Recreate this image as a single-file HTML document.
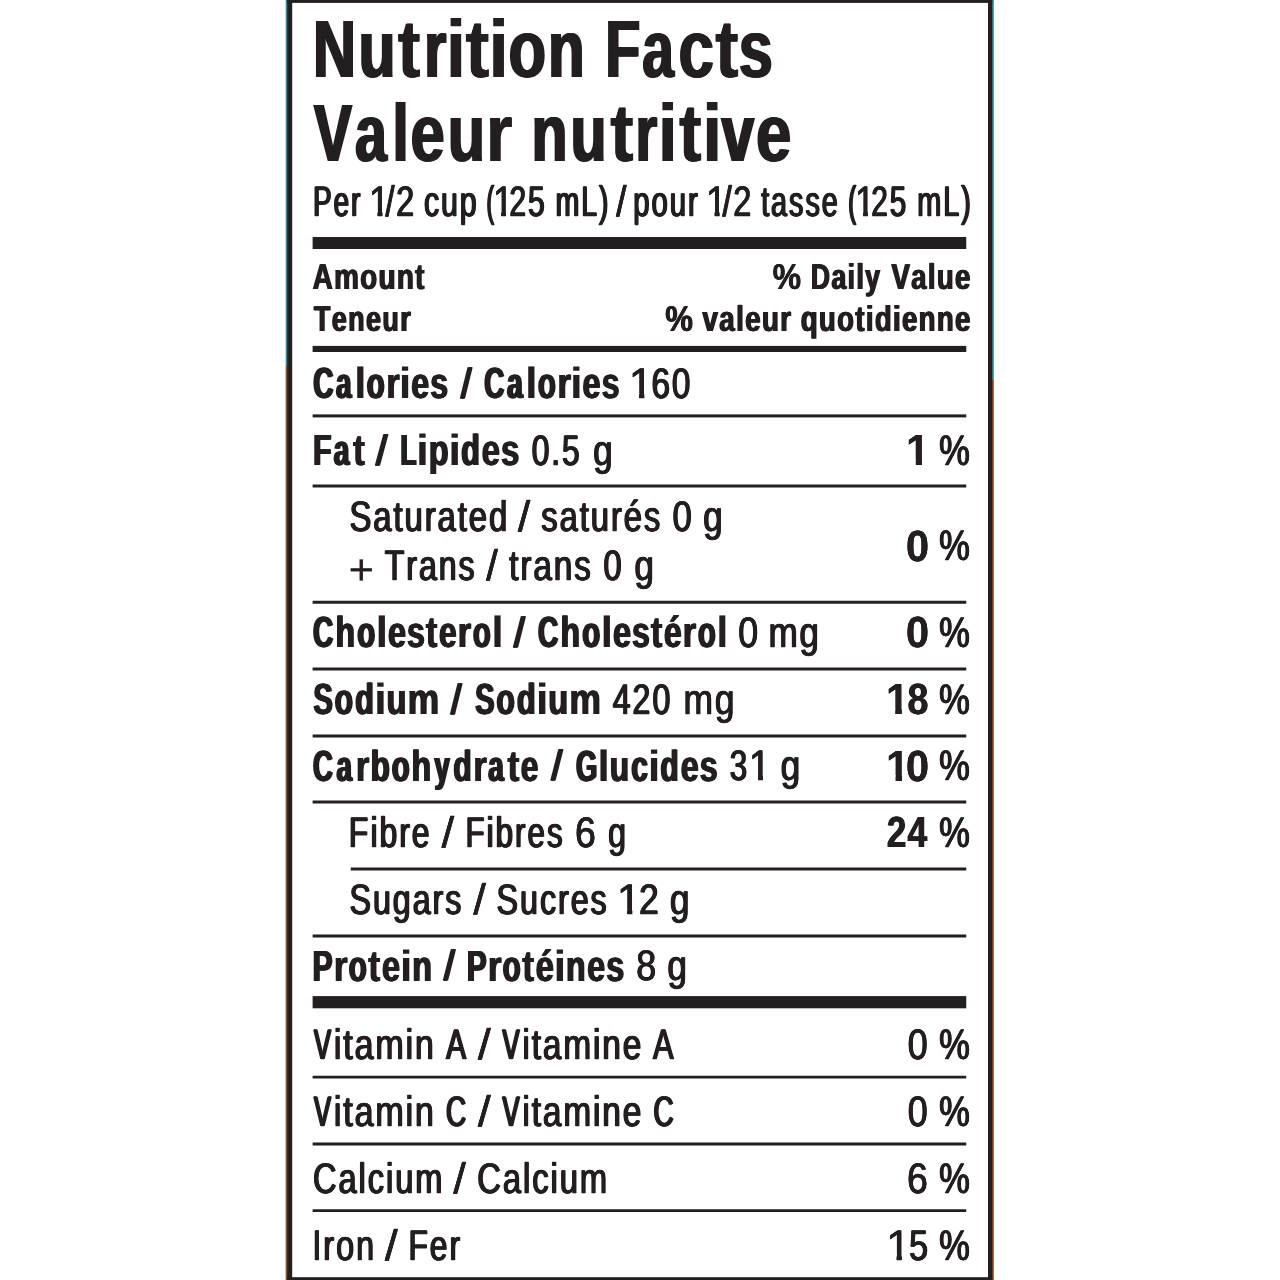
<!DOCTYPE html>
<html lang="en">
<head>
<meta charset="utf-8">
<title>Nutrition Facts / Valeur nutritive</title>
<style>
html,body{margin:0;padding:0;background:#fff;}
body{width:1280px;height:1280px;overflow:hidden;position:relative;}
#label{position:absolute;left:0;top:0;width:1280px;height:1280px;will-change:transform;}
#label svg{position:absolute;left:0;top:0;display:block;}
#label i{position:absolute;left:0;top:0;display:block;font-style:normal;white-space:pre;line-height:1;font-family:"Liberation Sans",sans-serif;color:#231f20;transform-origin:0 0;text-rendering:geometricPrecision;font-kerning:none;font-variant-ligatures:none;}
#label .T{font-weight:700;font-size:81.5px;}
#label .P{font-weight:400;font-size:42.66px;-webkit-text-stroke:0.65px #231f20;}
#label .H{font-weight:700;font-size:36px;}
#label .b{font-weight:700;font-size:43.6px;}
#label .r{font-weight:400;font-size:42.66px;-webkit-text-stroke:0.65px #231f20;}
#label .q{font-weight:400;font-size:42.5px;-webkit-text-stroke:0.6px #231f20;}
#label .x{font-weight:400;font-size:42.66px;-webkit-text-stroke:0.3px #231f20;}
</style>
</head>
<body>
<div id="label">
<svg width="1280" height="1280" viewBox="0 0 1280 1280" fill="#231f20">
<rect x="285.7" y="0" width="2" height="366" fill="#2a8ea3"/>
<rect x="285.7" y="366" width="2" height="914" fill="#8c4a1e"/>
<rect x="991.5" y="0" width="2.3" height="380" fill="#2a8ea3"/>
<rect x="991.5" y="380" width="2.3" height="900" fill="#8c4a1e"/>
<rect x="287.2" y="0" width="705" height="2.9"/>
<rect x="287.2" y="1277.2" width="705" height="2.8"/>
<rect x="287.2" y="0" width="5" height="1280"/>
<rect x="988" y="0" width="4.2" height="1280"/>
<rect x="312.6" y="237" width="653.65" height="12"/>
<rect x="312.6" y="345.9" width="653.65" height="6.1"/>
<rect x="312.6" y="414.4" width="653.65" height="3"/>
<rect x="312.6" y="484.5" width="653.65" height="3"/>
<rect x="312.6" y="600.75" width="653.65" height="3"/>
<rect x="312.6" y="667.5" width="653.65" height="3"/>
<rect x="312.6" y="734.5" width="653.65" height="3"/>
<rect x="312.6" y="800.5" width="653.65" height="3"/>
<rect x="350.75" y="867.5" width="615.5" height="3"/>
<rect x="312.6" y="934.5" width="653.65" height="3"/>
<rect x="312.6" y="996.1" width="653.65" height="12.2"/>
<rect x="312.6" y="1075.75" width="653.65" height="2.75"/>
<rect x="312.6" y="1142.5" width="653.65" height="3"/>
<rect x="312.6" y="1209.25" width="653.65" height="2.75"/>
</svg>
<i class="T" style="text-shadow:1.562px 0 0 #231f20,-1.562px 0 0 #231f20;transform:matrix(0.727,0,0,1,313.173,8.5)">N</i>
<i class="T" style="text-shadow:1.436px 0 0 #231f20,-1.436px 0 0 #231f20;transform:matrix(0.74,0,0,1,358.572,8.5)">u</i>
<i class="T" style="text-shadow:0.725px 0 0 #231f20,-0.725px 0 0 #231f20;transform:matrix(0.823,0,0,1,397.878,8.5)">t</i>
<i class="T" style="text-shadow:1.6px 0 0 #231f20,-1.6px 0 0 #231f20;transform:matrix(0.689,0,0,1,424.402,8.5)">r</i>
<i class="T" style="transform:matrix(0.943,0,0,1,445.331,8.5)">i</i>
<i class="T" style="text-shadow:0.243px 0 0 #231f20,-0.243px 0 0 #231f20;transform:matrix(0.891,0,0,1,465.23,8.5)">t</i>
<i class="T" style="transform:matrix(0.961,0,0,1,487.779,8.5)">i</i>
<i class="T" style="text-shadow:1.292px 0 0 #231f20,-1.292px 0 0 #231f20;transform:matrix(0.755,0,0,1,508.571,8.5)">o</i>
<i class="T" style="text-shadow:1.521px 0 0 #231f20,-1.521px 0 0 #231f20;transform:matrix(0.731,0,0,1,548.184,8.5)">n</i>
<i class="T" style="text-shadow:1.6px 0 0 #231f20,-1.6px 0 0 #231f20;transform:matrix(0.7,0,0,1,605.402,8.5)">F</i>
<i class="T" style="text-shadow:1.6px 0 0 #231f20,-1.6px 0 0 #231f20;transform:matrix(0.697,0,0,1,642.251,8.5)">a</i>
<i class="T" style="text-shadow:0.954px 0 0 #231f20,-0.954px 0 0 #231f20;transform:matrix(0.794,0,0,1,678.229,8.5)">c</i>
<i class="T" style="text-shadow:0.412px 0 0 #231f20,-0.412px 0 0 #231f20;transform:matrix(0.866,0,0,1,715.095,8.5)">t</i>
<i class="T" style="text-shadow:1.376px 0 0 #231f20,-1.376px 0 0 #231f20;transform:matrix(0.746,0,0,1,738.889,8.5)">s</i>
<i class="T" style="text-shadow:1.6px 0 0 #231f20,-1.6px 0 0 #231f20;transform:matrix(0.702,0,0,1,313.833,93.25)">V</i>
<i class="T" style="text-shadow:1.6px 0 0 #231f20,-1.6px 0 0 #231f20;transform:matrix(0.697,0,0,1,355.051,93.25)">a</i>
<i class="T" style="transform:matrix(0.894,0,0,1,390.511,93.25)">l</i>
<i class="T" style="text-shadow:1.239px 0 0 #231f20,-1.239px 0 0 #231f20;transform:matrix(0.761,0,0,1,410.42,93.25)">e</i>
<i class="T" style="text-shadow:1.287px 0 0 #231f20,-1.287px 0 0 #231f20;transform:matrix(0.756,0,0,1,447.652,93.25)">u</i>
<i class="T" style="text-shadow:0.707px 0 0 #231f20,-0.707px 0 0 #231f20;transform:matrix(0.826,0,0,1,486.148,93.25)">r</i>
<i class="T" style="text-shadow:1.6px 0 0 #231f20,-1.6px 0 0 #231f20;transform:matrix(0.719,0,0,1,531.688,93.25)">n</i>
<i class="T" style="text-shadow:1.6px 0 0 #231f20,-1.6px 0 0 #231f20;transform:matrix(0.72,0,0,1,570.612,93.25)">u</i>
<i class="T" style="text-shadow:0.412px 0 0 #231f20,-0.412px 0 0 #231f20;transform:matrix(0.866,0,0,1,610.095,93.25)">t</i>
<i class="T" style="text-shadow:1.6px 0 0 #231f20,-1.6px 0 0 #231f20;transform:matrix(0.685,0,0,1,635.515,93.25)">r</i>
<i class="T" style="transform:matrix(0.948,0,0,1,657.106,93.25)">i</i>
<i class="T" style="text-shadow:0.752px 0 0 #231f20,-0.752px 0 0 #231f20;transform:matrix(0.82,0,0,1,679.201,93.25)">t</i>
<i class="T" style="transform:matrix(0.948,0,0,1,701.506,93.25)">i</i>
<i class="T" style="text-shadow:1.6px 0 0 #231f20,-1.6px 0 0 #231f20;transform:matrix(0.719,0,0,1,721.521,93.25)">v</i>
<i class="T" style="text-shadow:1.038px 0 0 #231f20,-1.038px 0 0 #231f20;transform:matrix(0.784,0,0,1,755.817,93.25)">e</i>
<i class="P" style="text-shadow:1.273px 0 0 #231f20,-1.273px 0 0 #231f20;letter-spacing:3.196px;transform:matrix(0.648,0,0,1,313.168,180.999)">Per</i>
<i class="P" style="text-shadow:0.378px 0 0 #231f20,-0.378px 0 0 #231f20;clip-path:polygon(-9px -9px,15.251px -9px,15.251px 99px,10.024px 99px,10.024px 30.314px,-9px 30.314px);transform:matrix(0.873,0,0,1,368.932,180.999)">1</i>
<i class="P" style="text-shadow:0.762px 0 0 #231f20,-0.762px 0 0 #231f20;letter-spacing:2.174px;transform:matrix(0.76,0,0,1,385.526,180.999)">/2</i>
<i class="P" style="text-shadow:0.964px 0 0 #231f20,-0.964px 0 0 #231f20;letter-spacing:2.579px;transform:matrix(0.711,0,0,1,424.028,180.999)">cup</i>
<i class="P" style="text-shadow:1.6px 0 0 #231f20,-1.6px 0 0 #231f20;transform:matrix(0.534,0,0,1,486.515,180.999)">(</i>
<i class="P" style="text-shadow:0.519px 0 0 #231f20,-0.519px 0 0 #231f20;clip-path:polygon(-9px -9px,15.391px -9px,15.391px 99px,9.884px 99px,9.884px 30.314px,-9px 30.314px);transform:matrix(0.828,0,0,1,493.202,180.999)">1</i>
<i class="P" style="text-shadow:0.991px 0 0 #231f20,-0.991px 0 0 #231f20;letter-spacing:2.631px;transform:matrix(0.705,0,0,1,509.415,180.999)">25</i>
<i class="P" style="text-shadow:1.178px 0 0 #231f20,-1.178px 0 0 #231f20;letter-spacing:3.005px;transform:matrix(0.666,0,0,1,555.614,180.999)">mL)</i>
<i class="P" style="text-shadow:0.405px 0 0 #231f20,-0.405px 0 0 #231f20;transform:matrix(0.864,0,0,1,616.13,180.999)">/</i>
<i class="P" style="text-shadow:1.081px 0 0 #231f20,-1.081px 0 0 #231f20;letter-spacing:2.812px;transform:matrix(0.686,0,0,1,633.279,180.999)">pour</i>
<i class="P" style="text-shadow:0.378px 0 0 #231f20,-0.378px 0 0 #231f20;clip-path:polygon(-9px -9px,15.251px -9px,15.251px 99px,10.024px 99px,10.024px 30.314px,-9px 30.314px);transform:matrix(0.873,0,0,1,706.032,180.999)">1</i>
<i class="P" style="text-shadow:0.747px 0 0 #231f20,-0.747px 0 0 #231f20;letter-spacing:2.145px;transform:matrix(0.763,0,0,1,722.619,180.999)">/2</i>
<i class="P" style="text-shadow:1.137px 0 0 #231f20,-1.137px 0 0 #231f20;letter-spacing:2.924px;transform:matrix(0.674,0,0,1,761.15,180.999)">tasse</i>
<i class="P" style="text-shadow:1.6px 0 0 #231f20,-1.6px 0 0 #231f20;transform:matrix(0.538,0,0,1,848.363,180.999)">(</i>
<i class="P" style="text-shadow:0.519px 0 0 #231f20,-0.519px 0 0 #231f20;clip-path:polygon(-9px -9px,15.391px -9px,15.391px 99px,9.884px 99px,9.884px 30.314px,-9px 30.314px);transform:matrix(0.828,0,0,1,855.102,180.999)">1</i>
<i class="P" style="text-shadow:1.042px 0 0 #231f20,-1.042px 0 0 #231f20;letter-spacing:2.733px;transform:matrix(0.694,0,0,1,871.359,180.999)">25</i>
<i class="P" style="text-shadow:1.125px 0 0 #231f20,-1.125px 0 0 #231f20;letter-spacing:2.9px;transform:matrix(0.677,0,0,1,917.164,180.999)">mL)</i>
<i class="H" style="text-shadow:0.819px 0 0 #231f20,-0.819px 0 0 #231f20;letter-spacing:1.639px;transform:matrix(0.775,0,0,1,312.69,258.75)">Amount</i>
<i class="H" style="text-shadow:0.402px 0 0 #231f20,-0.402px 0 0 #231f20;transform:matrix(0.888,0,0,1,772.661,258.75)">%</i>
<i class="H" style="text-shadow:0.998px 0 0 #231f20,-0.998px 0 0 #231f20;letter-spacing:1.996px;transform:matrix(0.735,0,0,1,810.863,258.75)">Daily</i>
<i class="H" style="text-shadow:0.861px 0 0 #231f20,-0.861px 0 0 #231f20;letter-spacing:1.721px;transform:matrix(0.766,0,0,1,891.471,258.75)">Value</i>
<i class="H" style="text-shadow:0.939px 0 0 #231f20,-0.939px 0 0 #231f20;letter-spacing:1.879px;transform:matrix(0.748,0,0,1,313.9,301.25)">Teneur</i>
<i class="H" style="text-shadow:0.481px 0 0 #231f20,-0.481px 0 0 #231f20;transform:matrix(0.864,0,0,1,665.241,301.25)">%</i>
<i class="H" style="text-shadow:0.818px 0 0 #231f20,-0.818px 0 0 #231f20;letter-spacing:1.636px;transform:matrix(0.776,0,0,1,702.425,301.25)">valeur</i>
<i class="H" style="text-shadow:0.856px 0 0 #231f20,-0.856px 0 0 #231f20;letter-spacing:1.713px;transform:matrix(0.767,0,0,1,800.775,301.25)">quotidienne</i>
<i class="b" style="text-shadow:1.6px 0 0 #231f20,-1.6px 0 0 #231f20;transform:matrix(0.637,0,0,1,313.38,362.9)">C</i>
<i class="b" style="text-shadow:1.6px 0 0 #231f20,-1.6px 0 0 #231f20;transform:matrix(0.639,0,0,1,336.098,362.9)">a</i>
<i class="b" style="transform:matrix(1.044,0,0,1,354.004,362.9)">l</i>
<i class="b" style="text-shadow:1.397px 0 0 #231f20,-1.397px 0 0 #231f20;transform:matrix(0.672,0,0,1,366.724,362.9)">o</i>
<i class="b" style="text-shadow:0.706px 0 0 #231f20,-0.706px 0 0 #231f20;transform:matrix(0.798,0,0,1,386.192,362.9)">r</i>
<i class="b" style="transform:matrix(1.044,0,0,1,398.788,362.9)">i</i>
<i class="b" style="text-shadow:1.017px 0 0 #231f20,-1.017px 0 0 #231f20;transform:matrix(0.736,0,0,1,411.208,362.9)">e</i>
<i class="b" style="text-shadow:1.019px 0 0 #231f20,-1.019px 0 0 #231f20;transform:matrix(0.736,0,0,1,430.228,362.9)">s</i>
<i class="q" style="text-shadow:1.236px 0 0 #231f20,-1.236px 0 0 #231f20;transform:matrix(0.907,0,0,1,460.894,363.649)">/</i>
<i class="b" style="text-shadow:1.6px 0 0 #231f20,-1.6px 0 0 #231f20;transform:matrix(0.64,0,0,1,484.28,362.9)">C</i>
<i class="b" style="text-shadow:1.6px 0 0 #231f20,-1.6px 0 0 #231f20;transform:matrix(0.642,0,0,1,507.099,362.9)">a</i>
<i class="b" style="transform:matrix(1.049,0,0,1,525.086,362.9)">l</i>
<i class="b" style="text-shadow:1.367px 0 0 #231f20,-1.367px 0 0 #231f20;transform:matrix(0.677,0,0,1,537.842,362.9)">o</i>
<i class="b" style="text-shadow:0.673px 0 0 #231f20,-0.673px 0 0 #231f20;transform:matrix(0.805,0,0,1,557.384,362.9)">r</i>
<i class="b" style="transform:matrix(1.049,0,0,1,570.069,362.9)">i</i>
<i class="b" style="text-shadow:0.99px 0 0 #231f20,-0.99px 0 0 #231f20;transform:matrix(0.741,0,0,1,582.524,362.9)">e</i>
<i class="b" style="text-shadow:0.992px 0 0 #231f20,-0.992px 0 0 #231f20;transform:matrix(0.741,0,0,1,601.63,362.9)">s</i>
<i class="r" style="text-shadow:0.146px 0 0 #231f20,-0.146px 0 0 #231f20;clip-path:polygon(-9px -9px,15.018px -9px,15.018px 99px,10.257px 99px,10.257px 30.314px,-9px 30.314px);transform:matrix(1.023,0,0,1,628.782,362.649)">1</i>
<i class="r" style="text-shadow:0.874px 0 0 #231f20,-0.874px 0 0 #231f20;letter-spacing:2.399px;transform:matrix(0.781,0,0,1,651.445,362.649)">60</i>
<i class="b" style="text-shadow:1.284px 0 0 #231f20,-1.284px 0 0 #231f20;transform:matrix(0.69,0,0,1,313.074,430)">F</i>
<i class="b" style="text-shadow:1.583px 0 0 #231f20,-1.583px 0 0 #231f20;transform:matrix(0.645,0,0,1,333.649,430)">a</i>
<i class="b" style="text-shadow:0.626px 0 0 #231f20,-0.626px 0 0 #231f20;transform:matrix(0.816,0,0,1,353.082,430)">t</i>
<i class="q" style="text-shadow:0.953px 0 0 #231f20,-0.953px 0 0 #231f20;transform:matrix(0.996,0,0,1,375.747,430.749)">/</i>
<i class="b" style="text-shadow:1.6px 0 0 #231f20,-1.6px 0 0 #231f20;transform:matrix(0.598,0,0,1,400.463,430)">L</i>
<i class="b" style="transform:matrix(1.065,0,0,1,416.053,430)">i</i>
<i class="b" style="text-shadow:0.958px 0 0 #231f20,-0.958px 0 0 #231f20;transform:matrix(0.747,0,0,1,428.723,430)">p</i>
<i class="b" style="transform:matrix(1.065,0,0,1,448.321,430)">i</i>
<i class="b" style="text-shadow:1.191px 0 0 #231f20,-1.191px 0 0 #231f20;transform:matrix(0.705,0,0,1,461.082,430)">d</i>
<i class="b" style="text-shadow:0.898px 0 0 #231f20,-0.898px 0 0 #231f20;transform:matrix(0.758,0,0,1,481.641,430)">e</i>
<i class="b" style="text-shadow:0.9px 0 0 #231f20,-0.9px 0 0 #231f20;transform:matrix(0.758,0,0,1,501.04,430)">s</i>
<i class="b" style="text-shadow:0.041px 0 0 #231f20,-0.041px 0 0 #231f20;clip-path:polygon(-9px -9px,16.25px -9px,16.25px 99px,10.135px 99px,10.135px 29.451px,-9px 29.451px);transform:matrix(0.973,0,0,1,906.041,430)">1</i>
<i class="r" style="text-shadow:1.034px 0 0 #231f20,-1.034px 0 0 #231f20;letter-spacing:2.718px;transform:matrix(0.742,0,0,1,531.672,429.749)">0.5</i>
<i class="r" style="text-shadow:0.717px 0 0 #231f20,-0.717px 0 0 #231f20;transform:matrix(0.823,0,0,1,593.134,429.749)">g</i>
<i class="r" style="text-shadow:0.766px 0 0 #231f20,-0.766px 0 0 #231f20;transform:matrix(0.809,0,0,1,939.152,429.749)">%</i>
<i class="r" style="text-shadow:0.919px 0 0 #231f20,-0.919px 0 0 #231f20;letter-spacing:2.487px;transform:matrix(0.77,0,0,1,349.466,495.999)">Saturated</i>
<i class="r" style="text-shadow:0.143px 0 0 #231f20,-0.143px 0 0 #231f20;transform:matrix(1.024,0,0,1,517.98,495.999)">/</i>
<i class="r" style="text-shadow:0.927px 0 0 #231f20,-0.927px 0 0 #231f20;letter-spacing:2.503px;transform:matrix(0.768,0,0,1,541.299,495.999)">saturés</i>
<i class="r" style="text-shadow:0.77px 0 0 #231f20,-0.77px 0 0 #231f20;transform:matrix(0.808,0,0,1,672.538,495.999)">0</i>
<i class="r" style="text-shadow:0.717px 0 0 #231f20,-0.717px 0 0 #231f20;transform:matrix(0.823,0,0,1,703.134,495.999)">g</i>
<i class="x" style="transform:matrix(1.013,0,0,1,348.642,549.149)">+</i>
<i class="r" style="text-shadow:0.993px 0 0 #231f20,-0.993px 0 0 #231f20;letter-spacing:2.636px;transform:matrix(0.752,0,0,1,384.67,544.549)">Trans</i>
<i class="r" style="text-shadow:0.262px 0 0 #231f20,-0.262px 0 0 #231f20;transform:matrix(0.975,0,0,1,486.172,544.549)">/</i>
<i class="r" style="text-shadow:0.866px 0 0 #231f20,-0.866px 0 0 #231f20;letter-spacing:2.383px;transform:matrix(0.783,0,0,1,509.177,544.549)">trans</i>
<i class="r" style="text-shadow:0.945px 0 0 #231f20,-0.945px 0 0 #231f20;transform:matrix(0.763,0,0,1,603.448,544.549)">0</i>
<i class="r" style="text-shadow:0.717px 0 0 #231f20,-0.717px 0 0 #231f20;transform:matrix(0.823,0,0,1,634.384,544.549)">g</i>
<i class="b" style="text-shadow:0.096px 0 0 #231f20,-0.096px 0 0 #231f20;transform:matrix(0.956,0,0,1,905.943,525.5)">0</i>
<i class="r" style="text-shadow:0.766px 0 0 #231f20,-0.766px 0 0 #231f20;transform:matrix(0.809,0,0,1,939.152,525.249)">%</i>
<i class="b" style="text-shadow:1.591px 0 0 #231f20,-1.591px 0 0 #231f20;transform:matrix(0.644,0,0,1,312.973,612.4)">C</i>
<i class="b" style="text-shadow:1.024px 0 0 #231f20,-1.024px 0 0 #231f20;transform:matrix(0.735,0,0,1,335.415,612.4)">h</i>
<i class="b" style="text-shadow:1.394px 0 0 #231f20,-1.394px 0 0 #231f20;transform:matrix(0.673,0,0,1,357.292,612.4)">o</i>
<i class="b" style="transform:matrix(1.045,0,0,1,375.569,612.4)">l</i>
<i class="b" style="text-shadow:0.979px 0 0 #231f20,-0.979px 0 0 #231f20;transform:matrix(0.743,0,0,1,387.962,612.4)">e</i>
<i class="b" style="text-shadow:1.017px 0 0 #231f20,-1.017px 0 0 #231f20;transform:matrix(0.736,0,0,1,407.12,612.4)">s</i>
<i class="b" style="text-shadow:0.683px 0 0 #231f20,-0.683px 0 0 #231f20;transform:matrix(0.803,0,0,1,425.721,612.4)">t</i>
<i class="b" style="text-shadow:1.07px 0 0 #231f20,-1.07px 0 0 #231f20;transform:matrix(0.726,0,0,1,438.94,612.4)">e</i>
<i class="b" style="text-shadow:0.703px 0 0 #231f20,-0.703px 0 0 #231f20;transform:matrix(0.799,0,0,1,457.666,612.4)">r</i>
<i class="b" style="text-shadow:1.394px 0 0 #231f20,-1.394px 0 0 #231f20;transform:matrix(0.673,0,0,1,472.892,612.4)">o</i>
<i class="b" style="transform:matrix(1.036,0,0,1,491.245,612.4)">l</i>
<i class="q" style="text-shadow:1.136px 0 0 #231f20,-1.136px 0 0 #231f20;transform:matrix(0.937,0,0,1,513.845,613.149)">/</i>
<i class="b" style="text-shadow:1.591px 0 0 #231f20,-1.591px 0 0 #231f20;transform:matrix(0.644,0,0,1,537.973,612.4)">C</i>
<i class="b" style="text-shadow:1.024px 0 0 #231f20,-1.024px 0 0 #231f20;transform:matrix(0.735,0,0,1,560.415,612.4)">h</i>
<i class="b" style="text-shadow:1.394px 0 0 #231f20,-1.394px 0 0 #231f20;transform:matrix(0.673,0,0,1,582.292,612.4)">o</i>
<i class="b" style="transform:matrix(1.045,0,0,1,600.569,612.4)">l</i>
<i class="b" style="text-shadow:0.979px 0 0 #231f20,-0.979px 0 0 #231f20;transform:matrix(0.743,0,0,1,612.962,612.4)">e</i>
<i class="b" style="text-shadow:1.017px 0 0 #231f20,-1.017px 0 0 #231f20;transform:matrix(0.736,0,0,1,632.12,612.4)">s</i>
<i class="b" style="text-shadow:0.683px 0 0 #231f20,-0.683px 0 0 #231f20;transform:matrix(0.803,0,0,1,650.721,612.4)">t</i>
<i class="b" style="text-shadow:1.07px 0 0 #231f20,-1.07px 0 0 #231f20;transform:matrix(0.726,0,0,1,663.94,612.4)">é</i>
<i class="b" style="text-shadow:0.703px 0 0 #231f20,-0.703px 0 0 #231f20;transform:matrix(0.799,0,0,1,682.666,612.4)">r</i>
<i class="b" style="text-shadow:1.394px 0 0 #231f20,-1.394px 0 0 #231f20;transform:matrix(0.673,0,0,1,697.892,612.4)">o</i>
<i class="b" style="transform:matrix(1.003,0,0,1,716.347,612.4)">l</i>
<i class="b" style="text-shadow:0.096px 0 0 #231f20,-0.096px 0 0 #231f20;transform:matrix(0.956,0,0,1,905.943,612.4)">0</i>
<i class="r" style="text-shadow:0.664px 0 0 #231f20,-0.664px 0 0 #231f20;transform:matrix(0.838,0,0,1,738.182,612.149)">0</i>
<i class="r" style="text-shadow:0.725px 0 0 #231f20,-0.725px 0 0 #231f20;letter-spacing:2.099px;transform:matrix(0.821,0,0,1,768.536,612.149)">mg</i>
<i class="r" style="text-shadow:0.766px 0 0 #231f20,-0.766px 0 0 #231f20;transform:matrix(0.809,0,0,1,939.152,612.149)">%</i>
<i class="b" style="text-shadow:1.418px 0 0 #231f20,-1.418px 0 0 #231f20;transform:matrix(0.669,0,0,1,313.358,679.2)">S</i>
<i class="b" style="text-shadow:1.268px 0 0 #231f20,-1.268px 0 0 #231f20;transform:matrix(0.693,0,0,1,334.668,679.2)">o</i>
<i class="b" style="text-shadow:1.189px 0 0 #231f20,-1.189px 0 0 #231f20;transform:matrix(0.706,0,0,1,355.043,679.2)">d</i>
<i class="b" style="transform:matrix(1.065,0,0,1,373.891,679.2)">i</i>
<i class="b" style="text-shadow:0.95px 0 0 #231f20,-0.95px 0 0 #231f20;transform:matrix(0.749,0,0,1,386.477,679.2)">u</i>
<i class="b" style="text-shadow:0.634px 0 0 #231f20,-0.634px 0 0 #231f20;transform:matrix(0.814,0,0,1,407.635,679.2)">m</i>
<i class="q" style="text-shadow:1.236px 0 0 #231f20,-1.236px 0 0 #231f20;transform:matrix(0.907,0,0,1,450.894,679.949)">/</i>
<i class="b" style="text-shadow:1.418px 0 0 #231f20,-1.418px 0 0 #231f20;transform:matrix(0.669,0,0,1,475.108,679.2)">S</i>
<i class="b" style="text-shadow:1.268px 0 0 #231f20,-1.268px 0 0 #231f20;transform:matrix(0.693,0,0,1,496.418,679.2)">o</i>
<i class="b" style="text-shadow:1.189px 0 0 #231f20,-1.189px 0 0 #231f20;transform:matrix(0.706,0,0,1,516.793,679.2)">d</i>
<i class="b" style="transform:matrix(1.065,0,0,1,535.641,679.2)">i</i>
<i class="b" style="text-shadow:0.95px 0 0 #231f20,-0.95px 0 0 #231f20;transform:matrix(0.749,0,0,1,548.227,679.2)">u</i>
<i class="b" style="text-shadow:0.634px 0 0 #231f20,-0.634px 0 0 #231f20;transform:matrix(0.814,0,0,1,569.385,679.2)">m</i>
<i class="b" style="text-shadow:0.108px 0 0 #231f20,-0.108px 0 0 #231f20;clip-path:polygon(-9px -9px,16.316px -9px,16.316px 99px,10.068px 99px,10.068px 29.451px,-9px 29.451px);transform:matrix(0.952,0,0,1,886.015,679.2)">1</i>
<i class="b" style="text-shadow:0.405px 0 0 #231f20,-0.405px 0 0 #231f20;transform:matrix(0.869,0,0,1,907.45,679.2)">8</i>
<i class="r" style="text-shadow:0.99px 0 0 #231f20,-0.99px 0 0 #231f20;letter-spacing:2.63px;transform:matrix(0.752,0,0,1,612.753,678.949)">420</i>
<i class="r" style="text-shadow:0.687px 0 0 #231f20,-0.687px 0 0 #231f20;letter-spacing:2.023px;transform:matrix(0.832,0,0,1,683.486,678.949)">mg</i>
<i class="r" style="text-shadow:0.766px 0 0 #231f20,-0.766px 0 0 #231f20;transform:matrix(0.809,0,0,1,939.152,678.949)">%</i>
<i class="b" style="text-shadow:1.6px 0 0 #231f20,-1.6px 0 0 #231f20;transform:matrix(0.631,0,0,1,312.981,745.75)">C</i>
<i class="b" style="text-shadow:1.6px 0 0 #231f20,-1.6px 0 0 #231f20;transform:matrix(0.637,0,0,1,336.456,745.75)">a</i>
<i class="b" style="text-shadow:0.672px 0 0 #231f20,-0.672px 0 0 #231f20;transform:matrix(0.805,0,0,1,355.727,745.75)">r</i>
<i class="b" style="text-shadow:1.075px 0 0 #231f20,-1.075px 0 0 #231f20;transform:matrix(0.726,0,0,1,370.595,745.75)">b</i>
<i class="b" style="text-shadow:1.394px 0 0 #231f20,-1.394px 0 0 #231f20;transform:matrix(0.673,0,0,1,391.692,745.75)">o</i>
<i class="b" style="text-shadow:1.005px 0 0 #231f20,-1.005px 0 0 #231f20;transform:matrix(0.738,0,0,1,411.595,745.75)">h</i>
<i class="b" style="text-shadow:1.6px 0 0 #231f20,-1.6px 0 0 #231f20;transform:matrix(0.627,0,0,1,434.54,745.75)">y</i>
<i class="b" style="text-shadow:1.316px 0 0 #231f20,-1.316px 0 0 #231f20;transform:matrix(0.685,0,0,1,453.427,745.75)">d</i>
<i class="b" style="text-shadow:0.672px 0 0 #231f20,-0.672px 0 0 #231f20;transform:matrix(0.805,0,0,1,473.227,745.75)">r</i>
<i class="b" style="text-shadow:1.6px 0 0 #231f20,-1.6px 0 0 #231f20;transform:matrix(0.639,0,0,1,488.306,745.75)">a</i>
<i class="b" style="text-shadow:0.683px 0 0 #231f20,-0.683px 0 0 #231f20;transform:matrix(0.803,0,0,1,507.621,745.75)">t</i>
<i class="b" style="text-shadow:1.07px 0 0 #231f20,-1.07px 0 0 #231f20;transform:matrix(0.726,0,0,1,520.79,745.75)">e</i>
<i class="q" style="text-shadow:1.136px 0 0 #231f20,-1.136px 0 0 #231f20;transform:matrix(0.937,0,0,1,551.345,746.499)">/</i>
<i class="b" style="text-shadow:1.6px 0 0 #231f20,-1.6px 0 0 #231f20;transform:matrix(0.629,0,0,1,575.882,745.75)">G</i>
<i class="b" style="transform:matrix(1.046,0,0,1,597.35,745.75)">l</i>
<i class="b" style="text-shadow:1.061px 0 0 #231f20,-1.061px 0 0 #231f20;transform:matrix(0.728,0,0,1,609.803,745.75)">u</i>
<i class="b" style="text-shadow:1.253px 0 0 #231f20,-1.253px 0 0 #231f20;transform:matrix(0.695,0,0,1,631.066,745.75)">c</i>
<i class="b" style="transform:matrix(1.046,0,0,1,647.821,745.75)">i</i>
<i class="b" style="text-shadow:1.307px 0 0 #231f20,-1.307px 0 0 #231f20;transform:matrix(0.686,0,0,1,660.44,745.75)">d</i>
<i class="b" style="text-shadow:1.006px 0 0 #231f20,-1.006px 0 0 #231f20;transform:matrix(0.738,0,0,1,680.635,745.75)">e</i>
<i class="b" style="text-shadow:1.008px 0 0 #231f20,-1.008px 0 0 #231f20;transform:matrix(0.738,0,0,1,699.689,745.75)">s</i>
<i class="b" style="text-shadow:0.085px 0 0 #231f20,-0.085px 0 0 #231f20;clip-path:polygon(-9px -9px,16.294px -9px,16.294px 99px,10.091px 99px,10.091px 29.451px,-9px 29.451px);transform:matrix(0.959,0,0,1,886.124,745.75)">1</i>
<i class="b" style="text-shadow:0.096px 0 0 #231f20,-0.096px 0 0 #231f20;transform:matrix(0.956,0,0,1,905.943,745.75)">0</i>
<i class="r" style="text-shadow:1.068px 0 0 #231f20,-1.068px 0 0 #231f20;transform:matrix(0.734,0,0,1,729.83,745.499)">3</i>
<i class="r" style="text-shadow:0.458px 0 0 #231f20,-0.458px 0 0 #231f20;clip-path:polygon(-9px -9px,15.331px -9px,15.331px 99px,9.944px 99px,9.944px 30.314px,-9px 30.314px);transform:matrix(0.903,0,0,1,749.002,745.499)">1</i>
<i class="r" style="text-shadow:0.717px 0 0 #231f20,-0.717px 0 0 #231f20;transform:matrix(0.823,0,0,1,780.634,745.499)">g</i>
<i class="r" style="text-shadow:0.766px 0 0 #231f20,-0.766px 0 0 #231f20;transform:matrix(0.809,0,0,1,939.152,745.499)">%</i>
<i class="r" style="text-shadow:1.003px 0 0 #231f20,-1.003px 0 0 #231f20;letter-spacing:2.655px;transform:matrix(0.749,0,0,1,348.872,811.999)">Fibre</i>
<i class="r" style="text-shadow:0.102px 0 0 #231f20,-0.102px 0 0 #231f20;transform:matrix(1.043,0,0,1,441.695,811.999)">/</i>
<i class="r" style="text-shadow:1.074px 0 0 #231f20,-1.074px 0 0 #231f20;letter-spacing:2.798px;transform:matrix(0.733,0,0,1,465.46,811.999)">Fibres</i>
<i class="r" style="text-shadow:0.542px 0 0 #231f20,-0.542px 0 0 #231f20;transform:matrix(0.875,0,0,1,575.112,811.999)">6</i>
<i class="r" style="text-shadow:0.966px 0 0 #231f20,-0.966px 0 0 #231f20;transform:matrix(0.758,0,0,1,608.121,811.999)">g</i>
<i class="r" style="text-shadow:0.766px 0 0 #231f20,-0.766px 0 0 #231f20;transform:matrix(0.809,0,0,1,939.152,811.999)">%</i>
<i class="b" style="text-shadow:0.648px 0 0 #231f20,-0.648px 0 0 #231f20;letter-spacing:1.296px;transform:matrix(0.811,0,0,1,886.8,812.25)">24</i>
<i class="r" style="text-shadow:0.979px 0 0 #231f20,-0.979px 0 0 #231f20;letter-spacing:2.607px;transform:matrix(0.755,0,0,1,349.522,879.249)">Sugars</i>
<i class="r" style="text-shadow:0.102px 0 0 #231f20,-0.102px 0 0 #231f20;transform:matrix(1.043,0,0,1,473.445,879.249)">/</i>
<i class="r" style="text-shadow:0.976px 0 0 #231f20,-0.976px 0 0 #231f20;letter-spacing:2.603px;transform:matrix(0.756,0,0,1,496.52,879.249)">Sucres</i>
<i class="r" style="text-shadow:0.146px 0 0 #231f20,-0.146px 0 0 #231f20;clip-path:polygon(-9px -9px,15.018px -9px,15.018px 99px,10.257px 99px,10.257px 30.314px,-9px 30.314px);transform:matrix(1.023,0,0,1,616.782,879.249)">1</i>
<i class="r" style="text-shadow:0.696px 0 0 #231f20,-0.696px 0 0 #231f20;transform:matrix(0.829,0,0,1,639.068,879.249)">2</i>
<i class="r" style="text-shadow:0.717px 0 0 #231f20,-0.717px 0 0 #231f20;transform:matrix(0.823,0,0,1,669.884,879.249)">g</i>
<i class="b" style="text-shadow:1.306px 0 0 #231f20,-1.306px 0 0 #231f20;transform:matrix(0.687,0,0,1,312.644,945.75)">P</i>
<i class="b" style="text-shadow:0.613px 0 0 #231f20,-0.613px 0 0 #231f20;transform:matrix(0.818,0,0,1,333.669,945.75)">r</i>
<i class="b" style="text-shadow:1.313px 0 0 #231f20,-1.313px 0 0 #231f20;transform:matrix(0.685,0,0,1,348.567,945.75)">o</i>
<i class="b" style="text-shadow:0.594px 0 0 #231f20,-0.594px 0 0 #231f20;transform:matrix(0.823,0,0,1,368.225,945.75)">t</i>
<i class="b" style="text-shadow:0.939px 0 0 #231f20,-0.939px 0 0 #231f20;transform:matrix(0.751,0,0,1,381.878,945.75)">e</i>
<i class="b" style="transform:matrix(1.058,0,0,1,399.684,945.75)">i</i>
<i class="b" style="text-shadow:0.993px 0 0 #231f20,-0.993px 0 0 #231f20;transform:matrix(0.741,0,0,1,412.295,945.75)">n</i>
<i class="q" style="text-shadow:1.136px 0 0 #231f20,-1.136px 0 0 #231f20;transform:matrix(0.937,0,0,1,443.845,946.499)">/</i>
<i class="b" style="text-shadow:1.34px 0 0 #231f20,-1.34px 0 0 #231f20;transform:matrix(0.681,0,0,1,466.926,945.75)">P</i>
<i class="b" style="text-shadow:0.652px 0 0 #231f20,-0.652px 0 0 #231f20;transform:matrix(0.81,0,0,1,487.853,945.75)">r</i>
<i class="b" style="text-shadow:1.348px 0 0 #231f20,-1.348px 0 0 #231f20;transform:matrix(0.68,0,0,1,502.655,945.75)">o</i>
<i class="b" style="text-shadow:0.632px 0 0 #231f20,-0.632px 0 0 #231f20;transform:matrix(0.814,0,0,1,522.213,945.75)">t</i>
<i class="b" style="text-shadow:0.972px 0 0 #231f20,-0.972px 0 0 #231f20;transform:matrix(0.744,0,0,1,535.788,945.75)">é</i>
<i class="b" style="transform:matrix(1.052,0,0,1,553.473,945.75)">i</i>
<i class="b" style="text-shadow:1.026px 0 0 #231f20,-1.026px 0 0 #231f20;transform:matrix(0.734,0,0,1,566.044,945.75)">n</i>
<i class="b" style="text-shadow:0.972px 0 0 #231f20,-0.972px 0 0 #231f20;transform:matrix(0.744,0,0,1,587.151,945.75)">e</i>
<i class="b" style="text-shadow:0.974px 0 0 #231f20,-0.974px 0 0 #231f20;transform:matrix(0.744,0,0,1,606.314,945.75)">s</i>
<i class="r" style="text-shadow:0.65px 0 0 #231f20,-0.65px 0 0 #231f20;transform:matrix(0.842,0,0,1,636.26,945.499)">8</i>
<i class="r" style="text-shadow:0.717px 0 0 #231f20,-0.717px 0 0 #231f20;transform:matrix(0.823,0,0,1,667.384,945.499)">g</i>
<i class="r" style="text-shadow:1.6px 0 0 #231f20,-1.6px 0 0 #231f20;transform:matrix(0.598,0,0,1,314.039,1024.349)">V</i>
<i class="r" style="text-shadow:0.8px 0 0 #231f20,-0.8px 0 0 #231f20;letter-spacing:2.25px;transform:matrix(0.8,0,0,1,333.867,1024.349)">itamin</i>
<i class="r" style="text-shadow:1.224px 0 0 #231f20,-1.224px 0 0 #231f20;transform:matrix(0.701,0,0,1,446.028,1024.349)">A</i>
<i class="r" style="text-shadow:0.036px 0 0 #231f20,-0.036px 0 0 #231f20;transform:matrix(1.074,0,0,1,477.887,1024.349)">/</i>
<i class="r" style="text-shadow:1.6px 0 0 #231f20,-1.6px 0 0 #231f20;transform:matrix(0.598,0,0,1,502.539,1024.349)">V</i>
<i class="r" style="text-shadow:0.864px 0 0 #231f20,-0.864px 0 0 #231f20;letter-spacing:2.378px;transform:matrix(0.783,0,0,1,522.446,1024.349)">itamine</i>
<i class="r" style="text-shadow:1.127px 0 0 #231f20,-1.127px 0 0 #231f20;transform:matrix(0.721,0,0,1,652.988,1024.349)">A</i>
<i class="r" style="text-shadow:0.664px 0 0 #231f20,-0.664px 0 0 #231f20;transform:matrix(0.838,0,0,1,907.682,1024.349)">0</i>
<i class="r" style="text-shadow:0.766px 0 0 #231f20,-0.766px 0 0 #231f20;transform:matrix(0.809,0,0,1,939.152,1024.349)">%</i>
<i class="r" style="text-shadow:1.6px 0 0 #231f20,-1.6px 0 0 #231f20;transform:matrix(0.598,0,0,1,314.039,1090.949)">V</i>
<i class="r" style="text-shadow:0.8px 0 0 #231f20,-0.8px 0 0 #231f20;letter-spacing:2.25px;transform:matrix(0.8,0,0,1,333.867,1090.949)">itamin</i>
<i class="r" style="text-shadow:1.474px 0 0 #231f20,-1.474px 0 0 #231f20;transform:matrix(0.653,0,0,1,446.01,1090.949)">C</i>
<i class="r" style="text-shadow:0.036px 0 0 #231f20,-0.036px 0 0 #231f20;transform:matrix(1.074,0,0,1,477.887,1090.949)">/</i>
<i class="r" style="text-shadow:1.6px 0 0 #231f20,-1.6px 0 0 #231f20;transform:matrix(0.598,0,0,1,502.539,1090.949)">V</i>
<i class="r" style="text-shadow:0.864px 0 0 #231f20,-0.864px 0 0 #231f20;letter-spacing:2.378px;transform:matrix(0.783,0,0,1,522.446,1090.949)">itamine</i>
<i class="r" style="text-shadow:1.474px 0 0 #231f20,-1.474px 0 0 #231f20;transform:matrix(0.653,0,0,1,653.51,1090.949)">C</i>
<i class="r" style="text-shadow:0.664px 0 0 #231f20,-0.664px 0 0 #231f20;transform:matrix(0.838,0,0,1,907.682,1090.949)">0</i>
<i class="r" style="text-shadow:0.766px 0 0 #231f20,-0.766px 0 0 #231f20;transform:matrix(0.809,0,0,1,939.152,1090.949)">%</i>
<i class="r" style="text-shadow:0.94px 0 0 #231f20,-0.94px 0 0 #231f20;letter-spacing:2.531px;transform:matrix(0.764,0,0,1,313.061,1157.749)">Calcium</i>
<i class="r" style="text-shadow:0.102px 0 0 #231f20,-0.102px 0 0 #231f20;transform:matrix(1.043,0,0,1,453.445,1157.749)">/</i>
<i class="r" style="text-shadow:0.924px 0 0 #231f20,-0.924px 0 0 #231f20;letter-spacing:2.497px;transform:matrix(0.768,0,0,1,477.295,1157.749)">Calcium</i>
<i class="r" style="text-shadow:0.542px 0 0 #231f20,-0.542px 0 0 #231f20;transform:matrix(0.875,0,0,1,907.112,1157.749)">6</i>
<i class="r" style="text-shadow:0.766px 0 0 #231f20,-0.766px 0 0 #231f20;transform:matrix(0.809,0,0,1,939.152,1157.749)">%</i>
<i class="r" style="text-shadow:0.956px 0 0 #231f20,-0.956px 0 0 #231f20;letter-spacing:2.562px;transform:matrix(0.761,0,0,1,312.38,1224.749)">Iron</i>
<i class="r" style="text-shadow:0.036px 0 0 #231f20,-0.036px 0 0 #231f20;transform:matrix(1.074,0,0,1,384.887,1224.749)">/</i>
<i class="r" style="text-shadow:1.027px 0 0 #231f20,-1.027px 0 0 #231f20;letter-spacing:2.704px;transform:matrix(0.744,0,0,1,408.403,1224.749)">Fer</i>
<i class="r" style="text-shadow:0.146px 0 0 #231f20,-0.146px 0 0 #231f20;clip-path:polygon(-9px -9px,15.018px -9px,15.018px 99px,10.257px 99px,10.257px 30.314px,-9px 30.314px);transform:matrix(1.023,0,0,1,886.282,1224.749)">1</i>
<i class="r" style="text-shadow:0.796px 0 0 #231f20,-0.796px 0 0 #231f20;transform:matrix(0.801,0,0,1,909.03,1224.749)">5</i>
<i class="r" style="text-shadow:0.766px 0 0 #231f20,-0.766px 0 0 #231f20;transform:matrix(0.809,0,0,1,939.152,1224.749)">%</i>
</div>
</body>
</html>
